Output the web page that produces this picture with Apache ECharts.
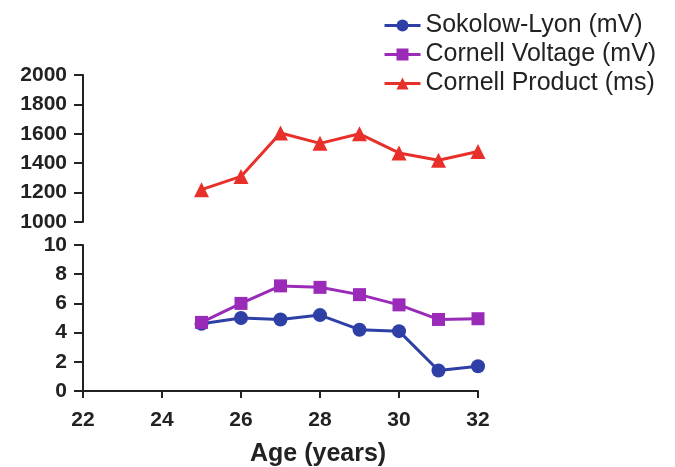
<!DOCTYPE html>
<html>
<head>
<meta charset="utf-8">
<script src="https://cdn.jsdelivr.net/npm/echarts@6/dist/echarts.min.js"></script>
<style>html,body{margin:0;padding:0;background:#fff}#c{width:675px;height:467px}</style>
</head>
<body>
<div id="c"></div>
<script>
const ages = [25, 26, 27, 28, 29, 30, 31, 32];
const sokolowLyon = [4.6, 5.0, 4.9, 5.2, 4.2, 4.1, 1.4, 1.7];
const cornellVoltage = [4.7, 6.0, 7.2, 7.1, 6.6, 5.9, 4.9, 4.95];
const cornellProduct = [1220, 1310, 1605, 1535, 1600, 1470, 1420, 1480];
const xTicks = [22, 24, 26, 28, 30, 32];
const upperTicks = [1000, 1200, 1400, 1600, 1800, 2000];
const lowerTicks = [0, 2, 4, 6, 8, 10];

const pairs = (ys) => ages.map((a, i) => [a, ys[i]]);
const font = 'Liberation Sans, Arial, sans-serif';
const axisColor = '#222';

const chart = echarts.init(document.getElementById('c'));
chart.setOption({
  animation: false,
  legend: {
    orient: 'vertical',
    left: 378, top: 8,
    itemWidth: 36, itemHeight: 15, itemGap: 4,
    textStyle: {fontFamily: font, fontSize: 25, color: '#222', lineHeight: 25},
    lineStyle: {width: 3},
    data: ['Sokolow-Lyon (mV)', 'Cornell Voltage (mV)', 'Cornell Product (ms)']
  },
  grid: [
    {left: 83, width: 395, top: 75, height: 147},
    {left: 83, width: 395, top: 245, height: 146}
  ],
  xAxis: [
    {gridIndex: 0, type: 'value', min: 22, max: 32, interval: 2, show: false},
    {gridIndex: 1, type: 'value', min: 22, max: 32, interval: 2,
     axisLine: {lineStyle: {color: axisColor, width: 2}},
     axisTick: {length: 7, lineStyle: {color: axisColor, width: 2}},
     axisLabel: {fontFamily: font, fontSize: 21, fontWeight: 'bold', color: '#222', margin: 19,
       formatter: v => xTicks.includes(v) ? String(v) : ''},
     splitLine: {show: false}}
  ],
  yAxis: [
    {gridIndex: 0, type: 'value', min: 1000, max: 2000, interval: 200,
     axisLine: {show: true, lineStyle: {color: axisColor, width: 2}},
     axisTick: {show: true, length: 9, lineStyle: {color: axisColor, width: 2}},
     axisLabel: {fontFamily: font, fontSize: 21, fontWeight: 'bold', color: '#222', margin: 16,
       formatter: v => upperTicks.includes(v) ? String(v) : ''},
     splitLine: {show: false}},
    {gridIndex: 1, type: 'value', min: 0, max: 10, interval: 2,
     axisLine: {show: true, lineStyle: {color: axisColor, width: 2}},
     axisTick: {show: true, length: 9, lineStyle: {color: axisColor, width: 2}},
     axisLabel: {fontFamily: font, fontSize: 21, fontWeight: 'bold', color: '#222', margin: 16,
       formatter: v => lowerTicks.includes(v) ? String(v) : ''},
     splitLine: {show: false}}
  ],
  graphic: [
    {type: 'text', left: 250, top: 442,
     style: {text: 'Age (years)', font: 'bold 25px ' + font, fill: '#222'}}
  ],
  series: [
    {name: 'Sokolow-Lyon (mV)', type: 'line', xAxisIndex: 1, yAxisIndex: 1,
     data: pairs(sokolowLyon), symbol: 'circle', symbolSize: 14,
     lineStyle: {color: '#2e3fa6', width: 3}, itemStyle: {color: '#2e3fa6'}},
    {name: 'Cornell Voltage (mV)', type: 'line', xAxisIndex: 1, yAxisIndex: 1,
     data: pairs(cornellVoltage), symbol: 'rect', symbolSize: 13,
     lineStyle: {color: '#9a2bb8', width: 3}, itemStyle: {color: '#9a2bb8'}},
    {name: 'Cornell Product (ms)', type: 'line', xAxisIndex: 0, yAxisIndex: 0,
     data: pairs(cornellProduct), symbol: 'triangle', symbolSize: 15,
     lineStyle: {color: '#e8302a', width: 3}, itemStyle: {color: '#e8302a'}}
  ]
});
</script>
</body>
</html>
